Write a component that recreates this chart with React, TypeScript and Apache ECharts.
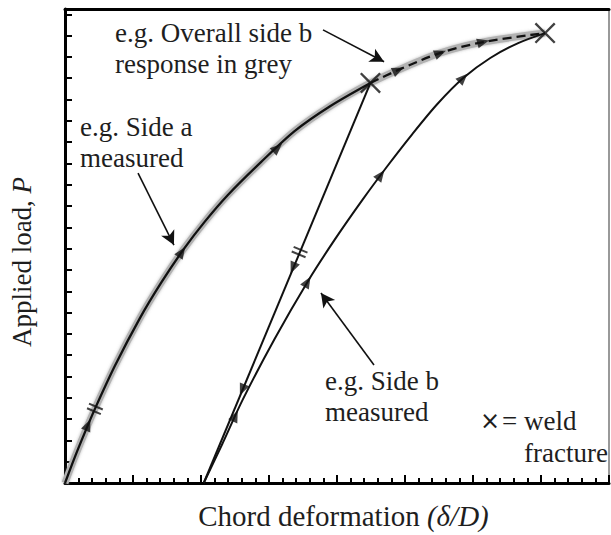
import React, { useEffect, useRef } from "react";
import * as echarts from "echarts";

// Axis extents (schematic, no tick labels)
const X_MAX = 40;
const Y_MAX = 22.25;

// Side a measured curve (origin -> first weld fracture)
const sideA: number[][] = [
  [0, 0], [0.73, 1.23], [1.47, 2.39], [2.2, 3.48], [3.67, 5.5], [5.5, 7.73], [7.05, 9.38],
  [8.73, 10.98], [10.28, 12.27], [11.96, 13.51], [14.39, 15.05], [16.88, 16.52], [19.52, 17.7], [22.46, 18.78],
];
// Continuation after first fracture (dashed) up to final fracture
const sideAPost: number[][] = [
  [22.46, 18.78], [24.51, 19.39], [27.6, 20.19], [30.75, 20.7], [35.3, 21.12],
];
// Side b unloading (straight) and reloading curve
const unload: number[][] = [[22.46, 18.78], [10.2, 0]];
const reload: number[][] = [
  [10.2, 0], [11.6, 1.88], [13.06, 3.9], [15.41, 6.76], [17.83, 9.44], [19.82, 11.41], [21.87, 13.29],
  [23.71, 14.88], [25.54, 16.38], [27.38, 17.79], [29.28, 19.01], [31.27, 19.95], [33.32, 20.65], [35.3, 21.12],
];
// Weld fracture points
const fractures: number[][] = [[22.46, 18.78], [35.3, 21.12]];

// Direction arrows on the curves
const arrowsA: number[][] = [[1.69, 2.72], [8.59, 10.84], [15.63, 15.73]];
const arrowsPost: number[][] = [[24.51, 19.39], [27.6, 20.19], [30.75, 20.7]];
const arrowsUnload: number[][] = [[16.76, 10.09], [13.03, 4.37]];
const arrowsReload: number[][] = [[12.52, 3.15], [17.83, 9.44], [23.22, 14.46], [29.28, 19.01]];
// Break marks (double slashes)
const breaksA: number[][] = [[2.2, 3.48]];
const breaksUnload: number[][] = [[17.25, 10.84]];

// Annotation arrows [from, to]
const notes: number[][][] = [
  [[18.97, 21.27], [23.46, 19.77]],
  [[5.37, 14.55], [8.01, 11.17]],
  [[22.72, 5.54], [18.82, 8.92]],
];

const SERIF = '"Liberation Serif", "Times New Roman", serif';
const TXT = "#1e1e1e";
const XPATH =
  "path://M0,1.6L1.6,0L10,8.4L18.4,0L20,1.6L11.6,10L20,18.4L18.4,20L10,11.6L1.6,20L0,18.4L8.4,10Z";
const BREAK = "path://M0,0H14V2H0Z M0,5H14V7H0Z";

export default function App() {
  const ref = useRef<HTMLDivElement>(null);
  useEffect(() => {
    if (!ref.current) return;
    const chart = echarts.init(ref.current, null, { renderer: "svg" });
    const text = (t: string, x: number, y: number, extra: any = {}) => ({
      type: "text",
      x,
      y,
      style: { text: t, fontFamily: SERIF, fontSize: 27, fill: TXT, verticalAlign: "middle", ...extra },
    });
    const option: any = {
      animation: false,
      grid: { left: 64, right: 2, top: 9, bottom: 52, containLabel: false },
      xAxis: [
        {
          type: "value",
          min: 0,
          max: X_MAX,
          interval: 5,
          name: "Chord deformation {i|(δ/D)}",
          nameLocation: "middle",
          nameGap: 18,
          nameTextStyle: {
            fontFamily: SERIF,
            fontSize: 29,
            color: TXT,
            padding: [0, 0, 0, 13],
            rich: { i: { fontFamily: SERIF, fontSize: 29, fontStyle: "italic", color: TXT } },
          },
          axisLine: { show: true, onZero: false, lineStyle: { color: "#000", width: 3 } },
          axisTick: { show: true, inside: true, length: 8, lineStyle: { color: "#000", width: 2 } },
          minorTick: { show: true, splitNumber: 5, length: 5, lineStyle: { color: "#000", width: 2 } },
          axisLabel: { show: false },
          splitLine: { show: false },
        },
        {
          type: "value",
          position: "top",
          min: 0,
          max: X_MAX,
          axisLine: { show: true, onZero: false, lineStyle: { color: "#000", width: 3 } },
          axisTick: { show: false },
          axisLabel: { show: false },
          splitLine: { show: false },
        },
      ],
      yAxis: [
        {
          type: "value",
          min: 0,
          max: Y_MAX,
          interval: 1,
          name: "Applied load, {i|P}",
          nameLocation: "middle",
          nameGap: 30,
          nameTextStyle: {
            fontFamily: SERIF,
            fontSize: 27,
            color: TXT,
            padding: [0, 32, 0, 0],
            rich: { i: { fontFamily: SERIF, fontSize: 27, fontStyle: "italic", color: TXT } },
          },
          axisLine: { show: true, onZero: false, lineStyle: { color: "#000", width: 3 } },
          axisTick: { show: true, inside: true, length: 7, lineStyle: { color: "#000", width: 2 } },
          axisLabel: { show: false },
          splitLine: { show: false },
        },
        {
          type: "value",
          position: "right",
          min: 0,
          max: Y_MAX,
          axisLine: { show: true, onZero: false, lineStyle: { color: "#777", width: 1.5 } },
          axisTick: { show: false },
          axisLabel: { show: false },
          splitLine: { show: false },
        },
      ],
      series: [
        {
          type: "line",
          data: sideA.concat(sideAPost.slice(1)),
          smooth: 0.3,
          symbol: "none",
          lineStyle: { color: "#b2b2b2", width: 7, shadowColor: "rgba(120,120,120,0.5)", shadowBlur: 3 },
          z: 1,
        },
        {
          type: "line",
          data: sideA,
          smooth: 0.3,
          symbol: "none",
          lineStyle: { color: "#111", width: 2.3 },
          z: 2,
        },
        {
          type: "line",
          data: sideAPost,
          smooth: 0.3,
          symbol: "none",
          lineStyle: { color: "#111", width: 2.3, type: [9, 5] },
          z: 2,
        },
        {
          type: "line",
          data: unload,
          symbol: "none",
          lineStyle: { color: "#111", width: 2 },
          z: 2,
        },
        {
          type: "line",
          data: reload,
          smooth: 0.3,
          symbol: "none",
          lineStyle: { color: "#111", width: 2 },
          z: 2,
        },
        {
          id: "arrows",
          type: "scatter",
          data: [],
          symbol: "triangle",
          symbolSize: [10, 12],
          itemStyle: { color: "#111" },
          z: 5,
        },
        {
          id: "breaks",
          type: "scatter",
          data: [],
          symbol: BREAK,
          symbolSize: [15, 7],
          itemStyle: { color: "#111" },
          z: 5,
        },
        {
          type: "scatter",
          data: fractures,
          symbol: XPATH,
          symbolSize: 21,
          itemStyle: { color: "#111" },
          z: 6,
        },
        {
          type: "line",
          data: [],
          symbol: "none",
          markLine: {
            silent: true,
            symbol: ["none", "arrow"],
            symbolSize: [11, 14],
            label: { show: false },
            lineStyle: { color: "#111", width: 1.6, type: "solid" },
            data: notes.map((n) => [{ coord: n[0] }, { coord: n[1] }]),
          },
        },
      ],
      graphic: [
        text("e.g. Overall side b", 115, 33),
        text("response in grey", 115, 64),
        text("e.g. Side a", 80, 127),
        text("measured", 80, 158),
        text("e.g. Side b", 325, 381),
        text("measured", 325, 412),
        text("×", 480, 421, { fontFamily: '"DejaVu Sans", sans-serif', fontSize: 24 }),
        text("= weld", 502, 421),
        text("fracture", 524, 453),
      ],
    };
    chart.setOption(option);

    const toPx = (p: number[]) => chart.convertToPixel({ gridIndex: 0 }, p) as number[];
    const rotOn = (curve: number[][], p: number[]) => {
      const P = toPx(p);
      let best = Infinity;
      let ang = 0;
      for (let i = 0; i < curve.length - 1; i++) {
        const A = toPx(curve[i]);
        const B = toPx(curve[i + 1]);
        const dx = B[0] - A[0];
        const dy = B[1] - A[1];
        const L2 = dx * dx + dy * dy || 1;
        let t = ((P[0] - A[0]) * dx + (P[1] - A[1]) * dy) / L2;
        t = Math.max(0, Math.min(1, t));
        const qx = A[0] + t * dx - P[0];
        const qy = A[1] + t * dy - P[1];
        const d = qx * qx + qy * qy;
        if (d < best - 1e-9) {
          best = d;
          ang = (Math.atan2(-dy, dx) * 180) / Math.PI;
        }
      }
      return ang - 90;
    };
    const mk = (pts: number[][], curve: number[][]) =>
      pts.map((p) => ({ value: p, symbolRotate: rotOn(curve, p) }));
    chart.setOption({
      series: [
        {
          id: "arrows",
          data: [
            ...mk(arrowsA, sideA),
            ...mk(arrowsPost, sideAPost),
            ...mk(arrowsUnload, unload),
            ...mk(arrowsReload, reload),
          ],
        },
        {
          id: "breaks",
          data: [...mk(breaksA, sideA), ...mk(breaksUnload, unload)],
        },
      ],
    });
    return () => chart.dispose();
  }, []);
  return (
    <div
      ref={ref}
      style={{ position: "absolute", left: 0, top: 0, width: 611, height: 535, background: "#fff" }}
    />
  );
}
